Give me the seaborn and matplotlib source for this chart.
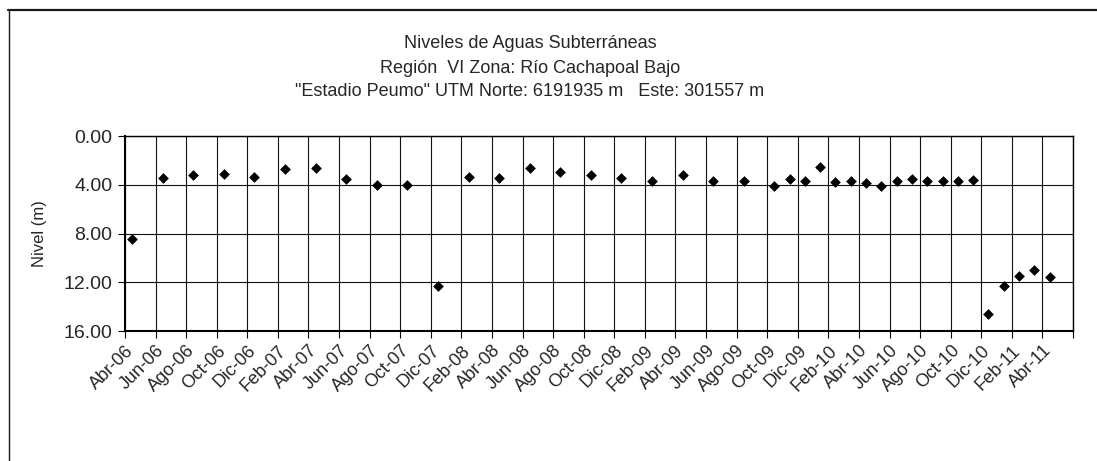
import matplotlib
matplotlib.use("Agg")
import matplotlib.pyplot as plt
import seaborn as sns
import pandas as pd
from matplotlib.lines import Line2D

# ---- data ----
fechas = [
    "2006-04-15", "2006-06-15", "2006-08-15", "2006-10-15", "2006-12-15",
    "2007-02-15", "2007-04-15", "2007-06-15", "2007-08-15", "2007-10-15",
    "2007-12-15", "2008-02-15", "2008-04-15", "2008-06-15", "2008-08-15",
    "2008-10-15", "2008-12-15", "2009-02-15", "2009-04-15", "2009-06-15",
    "2009-08-15", "2009-10-15", "2009-11-15", "2009-12-15", "2010-01-15",
    "2010-02-15", "2010-03-15", "2010-04-15", "2010-05-15", "2010-06-15",
    "2010-07-15", "2010-08-15", "2010-09-15", "2010-10-15", "2010-11-15",
    "2010-12-15", "2011-01-15", "2011-02-15", "2011-03-15", "2011-04-15",
]
nivel = [
    8.47, 3.45, 3.23, 3.12, 3.34,
    2.73, 2.63, 3.53, 4.05, 4.05,
    12.30, 3.34, 3.45, 2.63, 2.93,
    3.23, 3.45, 3.73, 3.18, 3.73,
    3.73, 4.11, 3.56, 3.73, 2.55,
    3.78, 3.73, 3.89, 4.14, 3.73,
    3.56, 3.73, 3.73, 3.73, 3.64,
    14.57, 12.33, 11.50, 10.96, 11.59,
]
xtick_labels = [
    "Abr-06", "Jun-06", "Ago-06", "Oct-06", "Dic-06",
    "Feb-07", "Abr-07", "Jun-07", "Ago-07", "Oct-07", "Dic-07",
    "Feb-08", "Abr-08", "Jun-08", "Ago-08", "Oct-08", "Dic-08",
    "Feb-09", "Abr-09", "Jun-09", "Ago-09", "Oct-09", "Dic-09",
    "Feb-10", "Abr-10", "Jun-10", "Ago-10", "Oct-10", "Dic-10",
    "Feb-11", "Abr-11", "",
]
ytick_values = [0, 4, 8, 12, 16]
titulo = ["Niveles de Aguas Subterráneas",
          "Región  VI Zona: Río Cachapoal Bajo",
          "\"Estadio Peumo\" UTM Norte: 6191935 m   Este: 301557 m"]

# months since Apr-2006 (Excel-like month axis)
d = pd.to_datetime(pd.Series(fechas))
mes = (d.dt.year - 2006) * 12 + (d.dt.month - 4) + (d.dt.day - 1) / 30.0
df = pd.DataFrame({"mes": mes, "nivel": nivel})

sns.set_style("white")
plt.rcParams["font.family"] = ["Liberation Sans", "DejaVu Sans"]

W, H = 1097, 461
fig = plt.figure(figsize=(W / 100, H / 100), dpi=100)
ax = fig.add_axes([125 / W, 1 - 331 / H, (1073 - 125) / W, (331 - 136) / H])

sns.scatterplot(data=df, x="mes", y="nivel", marker="D", s=30, color="black",
                linewidth=0, ax=ax, zorder=5)

ax.set_xlim(0, 62)
ax.set_ylim(16, 0)
ax.set_xticks(list(range(0, 63, 2)))
ax.set_xticklabels(xtick_labels, rotation=45, ha="right", rotation_mode="anchor",
                   fontsize=13)
ax.set_yticks(ytick_values)
ax.set_yticklabels([f"{v:.2f}" for v in ytick_values], fontsize=14)
ax.tick_params(axis="both", direction="out", length=5, width=0.8, color="black",
               bottom=True, left=True)
ax.tick_params(axis="x", pad=3)
ax.tick_params(axis="y", pad=4)

ax.grid(True, color="#111111", linewidth=0.8)
ax.set_axisbelow(True)
for side, lw in [("left", 1.5), ("bottom", 1.5), ("top", 1.0), ("right", 1.0)]:
    ax.spines[side].set_color("black")
    ax.spines[side].set_linewidth(lw)

ax.set_xlabel("")
ax.set_ylabel("Nivel (m)", fontsize=12, labelpad=12)

for i, (t, yc) in enumerate(zip(titulo, [44, 68, 92])):
    fig.text(530 / W, 1 - yc / H, t, ha="center", va="center", fontsize=13)

# chart-area frame
fig.add_artist(Line2D([8 / W, 1], [1 - 10 / H, 1 - 10 / H], color="#1a1a1a",
                      linewidth=1.6, transform=fig.transFigure))
fig.add_artist(Line2D([9 / W, 9 / W], [1 - 10 / H, 0], color="#1a1a1a",
                      linewidth=1.0, transform=fig.transFigure))

fig.savefig("out.png", dpi=100)
